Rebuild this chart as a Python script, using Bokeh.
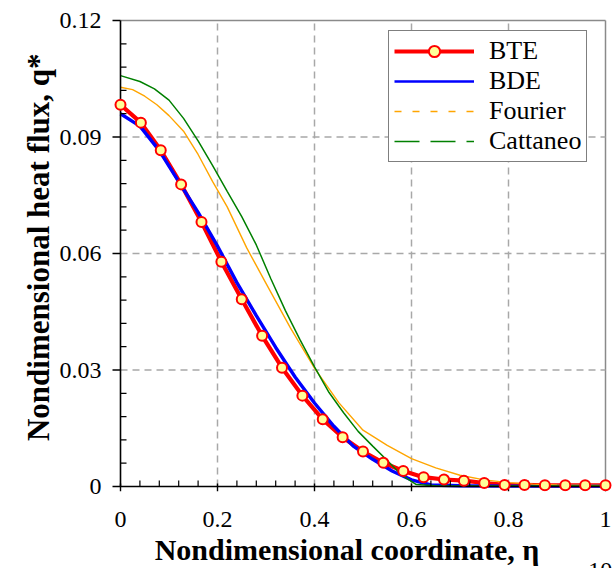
from bokeh.plotting import figure
from bokeh.models import Range1d, FixedTicker, Legend, LegendItem, LinearAxis
from bokeh.embed import file_html
from bokeh.resources import INLINE

# ---------------- data ----------------
x_lim = (0.0, 1.0)
y_lim = (0.0, 0.12)
x_ticks = [0.0, 0.2, 0.4, 0.6, 0.8, 1.0]
x_tick_labels = ["0", "0.2", "0.4", "0.6", "0.8", "1"]
y_ticks = [0.0, 0.03, 0.06, 0.09, 0.12]
y_tick_labels = ["0", "0.03", "0.06", "0.09", "0.12"]
x_grid = [0.2, 0.4, 0.6, 0.8]
y_grid = [0.03, 0.06, 0.09]
corner_tick = [0.99]          # where the clipped "10" sits
corner_text = ["10"]
x_title = "Nondimensional coordinate, η"
y_title = "Nondimensional heat flux, q*"

# BTE (markers)
bte_x = [0.0, 0.042, 0.083, 0.125, 0.167, 0.208, 0.25, 0.292, 0.333, 0.375,
         0.417, 0.458, 0.5, 0.542, 0.583, 0.625, 0.667, 0.708, 0.75, 0.792,
         0.833, 0.875, 0.917, 0.958, 1.0]
bte_q = [0.0983, 0.0937, 0.0866, 0.0778, 0.0681, 0.0579, 0.0482, 0.0388, 0.0306, 0.0234,
         0.0173, 0.0127, 0.0090, 0.0061, 0.0040, 0.0024, 0.0018, 0.0015, 0.0009, 0.0004,
         0.0004, 0.0003, 0.0003, 0.0003, 0.0003]

# BDE
bde_x = [0.0, 0.04, 0.08, 0.12, 0.16, 0.20, 0.24, 0.28, 0.32, 0.36,
         0.40, 0.44, 0.48, 0.52, 0.56, 0.60, 0.64, 0.70, 0.80, 1.0]
bde_q = [0.0960, 0.0928, 0.0865, 0.0785, 0.0706, 0.0619, 0.0525, 0.0440, 0.0358, 0.0282,
         0.0215, 0.0155, 0.0104, 0.0070, 0.0040, 0.0017, 0.0004, 0.0002, 0.0001, 0.0001]

# Fourier
fourier_x = [0.0, 0.025, 0.05, 0.075, 0.10, 0.13, 0.16, 0.19, 0.22, 0.26, 0.30, 0.35,
             0.40, 0.45, 0.50, 0.55, 0.60, 0.65, 0.70, 0.75, 0.80, 0.85, 0.90, 1.0]
fourier_q = [0.1028, 0.1022, 0.1005, 0.0983, 0.0955, 0.0915, 0.0855, 0.0785, 0.0720,
             0.0615, 0.0523, 0.0409, 0.0305, 0.0216, 0.0145, 0.0106, 0.0072, 0.0048,
             0.0029, 0.0017, 0.0010, 0.0006, 0.0004, 0.0003]

# Cattaneo
cattaneo_x = [0.0, 0.04, 0.07, 0.10, 0.13, 0.16, 0.19, 0.22, 0.25, 0.28, 0.31, 0.34,
              0.37, 0.40, 0.43, 0.46, 0.49, 0.52, 0.55, 0.58, 0.61, 0.65, 0.70, 1.0]
cattaneo_q = [0.1058, 0.1043, 0.1024, 0.0995, 0.0948, 0.0890, 0.0826, 0.0760, 0.0695,
              0.0622, 0.0535, 0.0453, 0.0378, 0.0308, 0.0242, 0.0190, 0.0142, 0.0104,
              0.0067, 0.0029, 0.0005, 0.0002, 0.0001, 0.0001]

# ---------------- layout ----------------
W, H = 612, 568
left_b, right_b, top_b, bottom_b = 111, 0, 18, 77
px_per_x = 485.0          # pixels per x unit
px_per_y = 466.0 / 0.12   # pixels per y unit
pad_l, pad_b = 9.0, 5.0   # room so that edge markers are not cut

x0r = x_lim[0] - pad_l / px_per_x
x1r = x0r + (W - left_b - right_b) / px_per_x
y0r = y_lim[0] - pad_b / px_per_y
y1r = y0r + (H - top_b - bottom_b) / px_per_y

FONT = "Liberation Serif"
NBSP = "\u00a0"

p = figure(width=W, height=H, output_backend="svg", toolbar_location=None,
           x_range=Range1d(x0r, x1r), y_range=Range1d(y0r, y1r),
           min_border_left=left_b, min_border_right=right_b,
           min_border_top=top_b, min_border_bottom=bottom_b,
           background_fill_color="white", border_fill_color="white")
p.outline_line_color = None
p.xgrid.visible = False
p.ygrid.visible = False

def minors(ticks, n=5):
    out = []
    for a, b in zip(ticks[:-1], ticks[1:]):
        for k in range(1, n):
            out.append(a + (b - a) * k / n)
    return out

x_minor = minors(x_ticks)
y_minor = minors(y_ticks)

def hide_rule(ax):
    ax.axis_line_color = None
    ax.major_tick_line_color = None
    ax.minor_tick_line_color = None
    ax.major_tick_out = 0
    ax.major_tick_in = 0
    ax.minor_tick_out = 0
    ax.minor_tick_in = 0

# axes (labels only; rules drawn below at the data origin)
xa = p.xaxis[0]
xa.ticker = FixedTicker(ticks=x_ticks)
xa.major_label_overrides = {t: s for t, s in zip(x_ticks, x_tick_labels)}
xa.bounds = x_lim
hide_rule(xa)
xa.major_label_standoff = 20
ya = p.yaxis[0]
ya.ticker = FixedTicker(ticks=y_ticks)
ya.major_label_overrides = {t: s for t, s in zip(y_ticks, y_tick_labels)}
ya.bounds = y_lim
hide_rule(ya)
ya.major_label_standoff = 10

for ax in (xa, ya):
    ax.major_label_text_font = FONT
    ax.major_label_text_font_size = "24px"
    ax.major_label_text_color = "black"

ya.axis_label = NBSP * 2 + y_title
ya.axis_label_text_font = FONT
ya.axis_label_text_font_style = "bold"
ya.axis_label_text_font_size = "31px"
ya.axis_label_text_color = "black"
ya.axis_label_standoff = 1

# second bottom axis: carries the x title and the clipped "10"
ax2 = LinearAxis(ticker=FixedTicker(ticks=corner_tick),
                 major_label_overrides={t: s for t, s in zip(corner_tick, corner_text)},
                 bounds=(-0.04, 0.991))
hide_rule(ax2)
ax2.major_label_standoff = 33
ax2.major_label_text_font = FONT
ax2.major_label_text_font_size = "24px"
ax2.major_label_text_color = "black"
ax2.axis_label = x_title + NBSP * 4
ax2.axis_label_text_font = FONT
ax2.axis_label_text_font_style = "bold"
ax2.axis_label_text_font_size = "30px"
ax2.axis_label_text_color = "black"
ax2.axis_label_standoff = -48
p.add_layout(ax2, "below")

# frame (top / right) and dashed grid
p.segment(x0=[x_lim[0], x_lim[1]], y0=[y_lim[1], y_lim[0]],
          x1=[x_lim[1], x_lim[1]], y1=[y_lim[1], y_lim[1]],
          line_color="#8a8a8a", line_width=1.5)
p.segment(x0=x_grid, y0=[y_lim[0]] * len(x_grid), x1=x_grid, y1=[y_lim[1]] * len(x_grid),
          line_color="#a8a8a8", line_width=1.5, line_dash="7 5")
p.segment(x0=[x_lim[0]] * len(y_grid), y0=y_grid, x1=[x_lim[1]] * len(y_grid), y1=y_grid,
          line_color="#a8a8a8", line_width=1.5, line_dash="7 5")

# curves
bte_line = p.line(bte_x, bte_q, line_color="#ff0000", line_width=4.2)
p.line(bde_x, bde_q, line_color="#0000ff", line_width=3.4)
p.line(fourier_x, fourier_q, line_color="#ffa500", line_width=1.4)
p.line(cattaneo_x, cattaneo_q, line_color="#008000", line_width=1.5)

# axis rules and ticks at the data origin
k = "black"
p.segment(x0=[x_lim[0], x_lim[0]], y0=[y_lim[0], y_lim[0]],
          x1=[x_lim[1], x_lim[0]], y1=[y_lim[0], y_lim[1]], line_color=k, line_width=1.6)
p.segment(x0=x_ticks, y0=[-5 / px_per_y] * len(x_ticks), x1=x_ticks, y1=[3 / px_per_y] * len(x_ticks),
          line_color=k, line_width=1.4)
p.segment(x0=x_minor, y0=[0] * len(x_minor), x1=x_minor, y1=[6 / px_per_y] * len(x_minor),
          line_color=k, line_width=1.2)
p.segment(x0=[-8 / px_per_x] * len(y_ticks), y0=y_ticks, x1=[0] * len(y_ticks), y1=y_ticks,
          line_color=k, line_width=1.4)
p.segment(x0=[0] * len(y_minor), y0=y_minor, x1=[6 / px_per_x] * len(y_minor), y1=y_minor,
          line_color=k, line_width=1.2)

bte_pts = p.scatter(bte_x, bte_q, marker="circle", size=10, fill_color="#ffff99",
                    line_color="#ff0000", line_width=2)

# legend-only glyph styles (not drawn in the plot area)
bde_leg = p.line(bde_x, bde_q, line_color="#0000ff", line_width=2.5, visible=False)
fou_leg = p.line(fourier_x, fourier_q, line_color="#ffa500", line_width=1.5,
                 line_dash="7 11", visible=False)
cat_leg = p.line(cattaneo_x, cattaneo_q, line_color="#008000", line_width=1.5,
                 line_dash="25 11", visible=False)

legend = Legend(items=[
    LegendItem(label="BTE", renderers=[bte_line, bte_pts]),
    LegendItem(label="BDE", renderers=[bde_leg]),
    LegendItem(label="Fourier", renderers=[fou_leg]),
    LegendItem(label="Cattaneo", renderers=[cat_leg]),
], location=(277, 329))
legend.label_text_font = FONT
legend.label_text_font_size = "26px"
legend.label_text_color = "black"
legend.glyph_width = 80
legend.glyph_height = 28
legend.label_height = 28
legend.label_standoff = 15
legend.spacing = 0
legend.padding = 5
legend.margin = 0
legend.border_line_color = "black"
legend.border_line_width = 1.3
legend.background_fill_color = "white"
legend.background_fill_alpha = 1.0
p.add_layout(legend)

open("out.html", "w").write(file_html(p, INLINE))
